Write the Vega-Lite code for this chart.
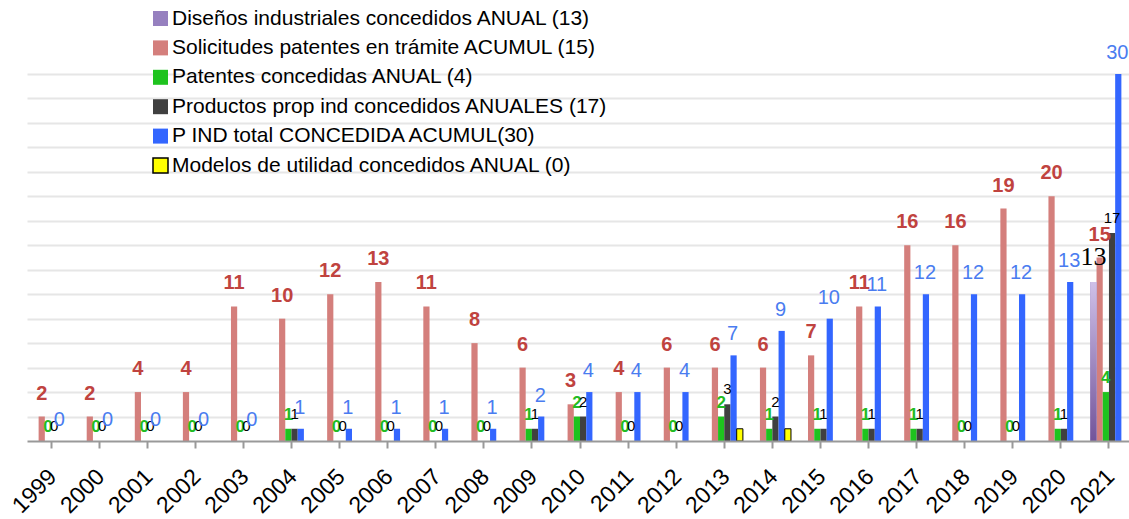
{
  "$schema": "https://vega.github.io/schema/vega-lite/v6.json",
  "width": 1102,
  "height": 367,
  "autosize": {"type": "none"},
  "padding": {"left": 27, "top": 74, "right": 0, "bottom": 78},
  "background": "white",
  "config": {"view": {"stroke": null}, "font": "Liberation Sans"},
  "data": {"values": [
    {"year": "1999", "series": "Solicitudes patentes en trámite ACUMUL (15)", "value": 2},
    {"year": "2000", "series": "Solicitudes patentes en trámite ACUMUL (15)", "value": 2},
    {"year": "2001", "series": "Solicitudes patentes en trámite ACUMUL (15)", "value": 4},
    {"year": "2002", "series": "Solicitudes patentes en trámite ACUMUL (15)", "value": 4},
    {"year": "2003", "series": "Solicitudes patentes en trámite ACUMUL (15)", "value": 11},
    {"year": "2004", "series": "Solicitudes patentes en trámite ACUMUL (15)", "value": 10},
    {"year": "2005", "series": "Solicitudes patentes en trámite ACUMUL (15)", "value": 12},
    {"year": "2006", "series": "Solicitudes patentes en trámite ACUMUL (15)", "value": 13},
    {"year": "2007", "series": "Solicitudes patentes en trámite ACUMUL (15)", "value": 11},
    {"year": "2008", "series": "Solicitudes patentes en trámite ACUMUL (15)", "value": 8},
    {"year": "2009", "series": "Solicitudes patentes en trámite ACUMUL (15)", "value": 6},
    {"year": "2010", "series": "Solicitudes patentes en trámite ACUMUL (15)", "value": 3},
    {"year": "2011", "series": "Solicitudes patentes en trámite ACUMUL (15)", "value": 4},
    {"year": "2012", "series": "Solicitudes patentes en trámite ACUMUL (15)", "value": 6},
    {"year": "2013", "series": "Solicitudes patentes en trámite ACUMUL (15)", "value": 6},
    {"year": "2014", "series": "Solicitudes patentes en trámite ACUMUL (15)", "value": 6},
    {"year": "2015", "series": "Solicitudes patentes en trámite ACUMUL (15)", "value": 7},
    {"year": "2016", "series": "Solicitudes patentes en trámite ACUMUL (15)", "value": 11},
    {"year": "2017", "series": "Solicitudes patentes en trámite ACUMUL (15)", "value": 16},
    {"year": "2018", "series": "Solicitudes patentes en trámite ACUMUL (15)", "value": 16},
    {"year": "2019", "series": "Solicitudes patentes en trámite ACUMUL (15)", "value": 19},
    {"year": "2020", "series": "Solicitudes patentes en trámite ACUMUL (15)", "value": 20},
    {"year": "2021", "series": "Solicitudes patentes en trámite ACUMUL (15)", "value": 15},
    {"year": "1999", "series": "Patentes concedidas ANUAL (4)", "value": 0},
    {"year": "2000", "series": "Patentes concedidas ANUAL (4)", "value": 0},
    {"year": "2001", "series": "Patentes concedidas ANUAL (4)", "value": 0},
    {"year": "2002", "series": "Patentes concedidas ANUAL (4)", "value": 0},
    {"year": "2003", "series": "Patentes concedidas ANUAL (4)", "value": 0},
    {"year": "2004", "series": "Patentes concedidas ANUAL (4)", "value": 1},
    {"year": "2005", "series": "Patentes concedidas ANUAL (4)", "value": 0},
    {"year": "2006", "series": "Patentes concedidas ANUAL (4)", "value": 0},
    {"year": "2007", "series": "Patentes concedidas ANUAL (4)", "value": 0},
    {"year": "2008", "series": "Patentes concedidas ANUAL (4)", "value": 0},
    {"year": "2009", "series": "Patentes concedidas ANUAL (4)", "value": 1},
    {"year": "2010", "series": "Patentes concedidas ANUAL (4)", "value": 2},
    {"year": "2011", "series": "Patentes concedidas ANUAL (4)", "value": 0},
    {"year": "2012", "series": "Patentes concedidas ANUAL (4)", "value": 0},
    {"year": "2013", "series": "Patentes concedidas ANUAL (4)", "value": 2},
    {"year": "2014", "series": "Patentes concedidas ANUAL (4)", "value": 1},
    {"year": "2015", "series": "Patentes concedidas ANUAL (4)", "value": 1},
    {"year": "2016", "series": "Patentes concedidas ANUAL (4)", "value": 1},
    {"year": "2017", "series": "Patentes concedidas ANUAL (4)", "value": 1},
    {"year": "2018", "series": "Patentes concedidas ANUAL (4)", "value": 0},
    {"year": "2019", "series": "Patentes concedidas ANUAL (4)", "value": 0},
    {"year": "2020", "series": "Patentes concedidas ANUAL (4)", "value": 1},
    {"year": "2021", "series": "Patentes concedidas ANUAL (4)", "value": 4},
    {"year": "1999", "series": "Productos prop ind concedidos ANUALES (17)", "value": 0},
    {"year": "2000", "series": "Productos prop ind concedidos ANUALES (17)", "value": 0},
    {"year": "2001", "series": "Productos prop ind concedidos ANUALES (17)", "value": 0},
    {"year": "2002", "series": "Productos prop ind concedidos ANUALES (17)", "value": 0},
    {"year": "2003", "series": "Productos prop ind concedidos ANUALES (17)", "value": 0},
    {"year": "2004", "series": "Productos prop ind concedidos ANUALES (17)", "value": 1},
    {"year": "2005", "series": "Productos prop ind concedidos ANUALES (17)", "value": 0},
    {"year": "2006", "series": "Productos prop ind concedidos ANUALES (17)", "value": 0},
    {"year": "2007", "series": "Productos prop ind concedidos ANUALES (17)", "value": 0},
    {"year": "2008", "series": "Productos prop ind concedidos ANUALES (17)", "value": 0},
    {"year": "2009", "series": "Productos prop ind concedidos ANUALES (17)", "value": 1},
    {"year": "2010", "series": "Productos prop ind concedidos ANUALES (17)", "value": 2},
    {"year": "2011", "series": "Productos prop ind concedidos ANUALES (17)", "value": 0},
    {"year": "2012", "series": "Productos prop ind concedidos ANUALES (17)", "value": 0},
    {"year": "2013", "series": "Productos prop ind concedidos ANUALES (17)", "value": 3},
    {"year": "2014", "series": "Productos prop ind concedidos ANUALES (17)", "value": 2},
    {"year": "2015", "series": "Productos prop ind concedidos ANUALES (17)", "value": 1},
    {"year": "2016", "series": "Productos prop ind concedidos ANUALES (17)", "value": 1},
    {"year": "2017", "series": "Productos prop ind concedidos ANUALES (17)", "value": 1},
    {"year": "2018", "series": "Productos prop ind concedidos ANUALES (17)", "value": 0},
    {"year": "2019", "series": "Productos prop ind concedidos ANUALES (17)", "value": 0},
    {"year": "2020", "series": "Productos prop ind concedidos ANUALES (17)", "value": 1},
    {"year": "2021", "series": "Productos prop ind concedidos ANUALES (17)", "value": 17},
    {"year": "1999", "series": "P IND total CONCEDIDA ACUMUL(30)", "value": 0},
    {"year": "2000", "series": "P IND total CONCEDIDA ACUMUL(30)", "value": 0},
    {"year": "2001", "series": "P IND total CONCEDIDA ACUMUL(30)", "value": 0},
    {"year": "2002", "series": "P IND total CONCEDIDA ACUMUL(30)", "value": 0},
    {"year": "2003", "series": "P IND total CONCEDIDA ACUMUL(30)", "value": 0},
    {"year": "2004", "series": "P IND total CONCEDIDA ACUMUL(30)", "value": 1},
    {"year": "2005", "series": "P IND total CONCEDIDA ACUMUL(30)", "value": 1},
    {"year": "2006", "series": "P IND total CONCEDIDA ACUMUL(30)", "value": 1},
    {"year": "2007", "series": "P IND total CONCEDIDA ACUMUL(30)", "value": 1},
    {"year": "2008", "series": "P IND total CONCEDIDA ACUMUL(30)", "value": 1},
    {"year": "2009", "series": "P IND total CONCEDIDA ACUMUL(30)", "value": 2},
    {"year": "2010", "series": "P IND total CONCEDIDA ACUMUL(30)", "value": 4},
    {"year": "2011", "series": "P IND total CONCEDIDA ACUMUL(30)", "value": 4},
    {"year": "2012", "series": "P IND total CONCEDIDA ACUMUL(30)", "value": 4},
    {"year": "2013", "series": "P IND total CONCEDIDA ACUMUL(30)", "value": 7},
    {"year": "2014", "series": "P IND total CONCEDIDA ACUMUL(30)", "value": 9},
    {"year": "2015", "series": "P IND total CONCEDIDA ACUMUL(30)", "value": 10},
    {"year": "2016", "series": "P IND total CONCEDIDA ACUMUL(30)", "value": 11},
    {"year": "2017", "series": "P IND total CONCEDIDA ACUMUL(30)", "value": 12},
    {"year": "2018", "series": "P IND total CONCEDIDA ACUMUL(30)", "value": 12},
    {"year": "2019", "series": "P IND total CONCEDIDA ACUMUL(30)", "value": 12},
    {"year": "2020", "series": "P IND total CONCEDIDA ACUMUL(30)", "value": 13},
    {"year": "2021", "series": "P IND total CONCEDIDA ACUMUL(30)", "value": 30},
    {"year": "2021", "series": "Diseños industriales concedidos ANUAL (13)", "value": 13},
    {"year": "2013", "series": "Modelos de utilidad concedidos ANUAL (0)", "value": 1},
    {"year": "2014", "series": "Modelos de utilidad concedidos ANUAL (0)", "value": 1}
  ]},
  "encoding": {
    "x": {
      "field": "year", "type": "ordinal",
      "scale": {"paddingInner": 0.225, "paddingOuter": 0.1125, "range": [0, 1106]},
      "axis": {
        "title": null, "labelAngle": -45, "labelFontSize": 23, "labelColor": "black",
        "labelFont": "Liberation Sans", "domainColor": "#999999", "domainWidth": 2,
        "tickColor": "#999999", "tickWidth": 2, "tickSize": 7, "labelPadding": 17, "labelOffset": -6, "grid": false, "zindex": 1
      }
    },
    "xOffset": {
      "field": "series", "type": "nominal",
      "scale": {"domain": [
        "Diseños industriales concedidos ANUAL (13)",
        "Solicitudes patentes en trámite ACUMUL (15)",
        "Patentes concedidas ANUAL (4)",
        "Productos prop ind concedidos ANUALES (17)",
        "P IND total CONCEDIDA ACUMUL(30)",
        "Modelos de utilidad concedidos ANUAL (0)"
      ], "paddingInner": 0, "paddingOuter": 0}
    },
    "y": {
      "field": "value", "type": "quantitative",
      "scale": {"domain": [0, 30], "nice": false},
      "axis": {
        "title": null, "labels": false, "ticks": false, "domain": false,
        "values": [2, 4, 6, 8, 10, 12, 14, 16, 18, 20, 22, 24, 26, 28, 30],
        "gridColor": "#e6e6e6", "gridWidth": 2
      }
    }
  },
  "layer": [
    {
      "mark": {"type": "bar", "strokeWidth": 1},
      "encoding": {
        "fill": {
          "field": "series", "type": "nominal",
          "scale": {"domain": [
            "Diseños industriales concedidos ANUAL (13)",
            "Solicitudes patentes en trámite ACUMUL (15)",
            "Patentes concedidas ANUAL (4)",
            "Productos prop ind concedidos ANUALES (17)",
            "P IND total CONCEDIDA ACUMUL(30)",
            "Modelos de utilidad concedidos ANUAL (0)"
          ], "range": ["#9680bf", "#d47f7c", "#1ec31e", "#404040", "#3366ff", "#ffff00"]},
          "legend": {
            "title": null, "orient": "none", "legendX": 123, "legendY": -66,
            "labelFontSize": 21, "labelFont": "Liberation Sans", "labelColor": "black",
            "symbolType": "square", "symbolSize": 225, "rowPadding": 7.4, "labelOffset": 1,
            "labelLimit": 0, "symbolOpacity": 1
          }
        },
        "stroke": {
          "field": "series", "type": "nominal",
          "scale": {"domain": [
            "Diseños industriales concedidos ANUAL (13)",
            "Solicitudes patentes en trámite ACUMUL (15)",
            "Patentes concedidas ANUAL (4)",
            "Productos prop ind concedidos ANUALES (17)",
            "P IND total CONCEDIDA ACUMUL(30)",
            "Modelos de utilidad concedidos ANUAL (0)"
          ], "range": ["transparent", "transparent", "transparent", "transparent", "transparent", "black"]},
          "legend": {
            "title": null, "orient": "none", "legendX": 123, "legendY": -66,
            "labelFontSize": 21, "labelFont": "Liberation Sans", "labelColor": "black",
            "symbolType": "square", "symbolSize": 225, "rowPadding": 7.4, "labelOffset": 1,
            "labelLimit": 0, "symbolOpacity": 1
          }
        }
      }
    },
    {
      "transform": [{"filter": "datum.series === 'Diseños industriales concedidos ANUAL (13)'"}],
      "mark": {"type": "bar", "fill": {"gradient": "linear", "x1": 0, "y1": 0, "x2": 0, "y2": 1, "stops": [{"offset": 0, "color": "#cfc0e8"}, {"offset": 1, "color": "#72549a"}]}}
    },
    {
      "transform": [{"filter": "datum.series === 'Solicitudes patentes en trámite ACUMUL (15)'"}],
      "mark": {"type": "text", "font": "Liberation Sans", "fontWeight": "bold", "fontSize": 20, "color": "#c0433f", "baseline": "alphabetic", "dy": -17},
      "encoding": {"text": {"field": "value", "type": "quantitative"}}
    },
    {
      "transform": [{"filter": "datum.series === 'Patentes concedidas ANUAL (4)'"}],
      "mark": {"type": "text", "font": "Liberation Sans", "fontWeight": "bold", "fontSize": 17, "color": "#22bb22", "baseline": "alphabetic", "dy": -9},
      "encoding": {"text": {"field": "value", "type": "quantitative"}}
    },
    {
      "transform": [{"filter": "datum.series === 'Productos prop ind concedidos ANUALES (17)'"}],
      "mark": {"type": "text", "font": "Liberation Sans", "fontSize": 15, "color": "black", "baseline": "alphabetic", "dy": -10},
      "encoding": {"text": {"field": "value", "type": "quantitative"}}
    },
    {
      "transform": [{"filter": "datum.series === 'P IND total CONCEDIDA ACUMUL(30)'"}],
      "mark": {"type": "text", "font": "Liberation Sans", "fontSize": 20, "color": "#4a7cf0", "baseline": "alphabetic", "dy": -15, "dx": -1},
      "encoding": {"text": {"field": "value", "type": "quantitative"}}
    },
    {
      "transform": [{"filter": "datum.series === 'Diseños industriales concedidos ANUAL (13)'"}],
      "mark": {"type": "text", "font": "Liberation Serif", "fontSize": 26, "color": "black", "baseline": "alphabetic", "dy": -17},
      "encoding": {"text": {"field": "value", "type": "quantitative"}}
    }
  ]
}
